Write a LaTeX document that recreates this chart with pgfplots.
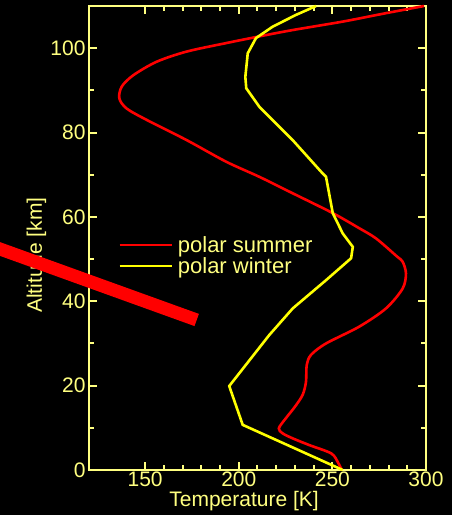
\documentclass[border=0pt]{standalone}
\usepackage{pgfplots}
\pgfplotsset{compat=1.18}
\usepackage{fontspec}
\setmainfont{Liberation Sans}
\definecolor{axcol}{RGB}{255,255,128}
\definecolor{wint}{RGB}{255,255,0}
\definecolor{summ}{RGB}{255,0,0}
\begin{document}
\begin{tikzpicture}
\path[fill=black, use as bounding box] (-89pt,-45pt) rectangle (363pt,470pt);
\begin{axis}[
 at={(0pt,0pt)}, anchor=south west,
 scale only axis, width=337pt, height=464pt,
 xmin=120, xmax=300, ymin=0, ymax=110,
 clip=false,
 axis line style={axcol, line width=2pt},
 every tick/.style={axcol, line width=2pt},
 tick align=inside,
 major tick length=8pt, minor tick length=5pt,
 xtick={150,200,250,300}, minor x tick num=4,
 ytick={0,20,40,60,80,100}, minor y tick num=1,
 tick label style={font=\fontsize{21}{21}\selectfont, text=axcol},
 xticklabel style={yshift=1.5pt},
 /pgf/number format/assume math mode=true,
 xlabel={Temperature [K]},
 ylabel={Altitude [km]},
 label style={font=\fontsize{21}{21}\selectfont, text=axcol},
 xlabel style={at={(axis description cs:0.46,-0.078)}, anchor=base},
 ylabel style={at={(axis description cs:-0.1395,0.463)}, anchor=base},
 legend style={draw=none, fill=none, inner sep=0pt, outer sep=0pt,
   at={(axis description cs:0.087,0.504)}, anchor=north west,
   font=\fontsize{22}{22}\selectfont,
   nodes={inner sep=0pt, text=axcol}, row sep=3.8pt, column sep=5pt},
 legend cell align=left,
 legend image code/.code={\draw[#1] (0pt,0pt) -- (52pt,0pt);},
]
\addplot[summ, line width=2.6pt, smooth] coordinates {
(255,0) (253.2,1.6) (249.5,3.9) (237.7,5.9) (228.8,7.5) (223.4,8.7) (221.4,9.9)
(225.2,12.3) (230,15) (234.1,17.8) (235.9,20.9) (236.3,24.9) (238.6,27.3)
(246.6,30) (264.4,34) (278.6,38.3) (287.5,43) (289.3,46.6) (287.5,49.4)
(284.3,50.7) (273.3,54.9) (264.4,57.3) (250.2,60.9) (228.8,65.6) (211,69.5)
(193.2,73.1) (172.2,78.2) (150.8,83) (140.1,85.7) (136.2,88.1) (137.5,90.9)
(143.7,93.6) (156.2,96.8) (172.2,99.2) (193.2,101.2) (211,102.8) (228.8,104.3)
(255.5,106.3) (278.6,108.3) (299,110)
};
\addlegendentry{polar summer}
\addplot[wint, line width=2.6pt] coordinates {
(255.5,0) (202.1,10.7) (194.9,19.9) (216.3,32) (228.8,38.3) (246.6,45)
(260,50.2) (260.9,52.9) (255.5,56.1) (250.2,60.9) (246.6,69.5) (244.8,70.3)
(228.8,78.2) (211,86.1) (204,90.5) (203.5,93.2) (204.8,98.8) (209.2,102.4)
(218.1,105.1) (230.6,107.9) (241.3,110)
};
\addlegendentry{polar winter}
\end{axis}
\begin{axis}[
 at={(0pt,0pt)}, anchor=south west,
 scale only axis, width=337pt, height=464pt,
 xmin=120, xmax=300, ymin=0, ymax=110,
 clip=false, hide axis,
]
\addplot[fill=summ, draw=none] coordinates {
(72.45,54.03) (178.70,37.01) (176.35,34.12) (72.45,50.76)
} --cycle;
\end{axis}
\end{tikzpicture}
\end{document}
